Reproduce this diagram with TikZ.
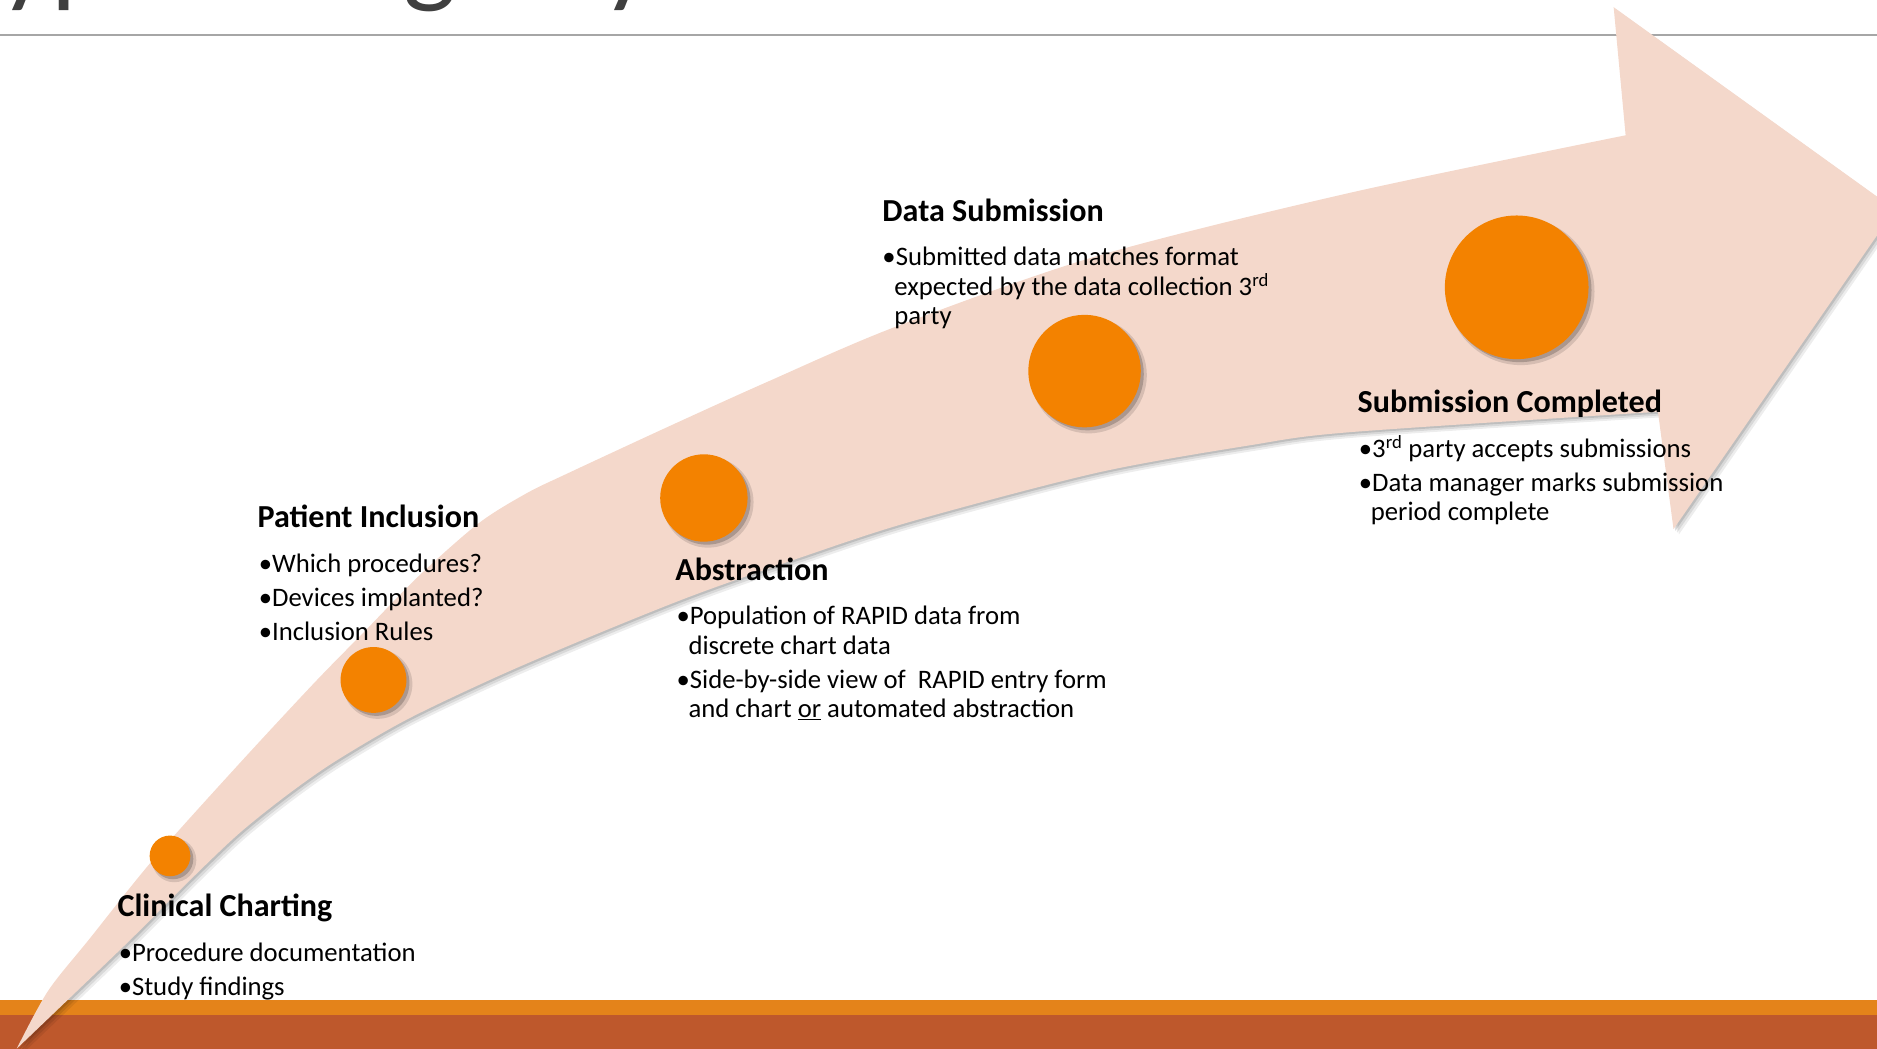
\documentclass[tikz,border=0pt]{standalone}
\usepackage{fontspec}
\setmainfont{Carlito}
\usetikzlibrary{positioning}
\definecolor{arrowpink}{HTML}{F4D8CB}
\definecolor{dotorange}{HTML}{F38200}
\definecolor{bandorange}{HTML}{E4831A}
\definecolor{bandrust}{HTML}{BE582C}
\definecolor{titlegray}{HTML}{404040}
\definecolor{rulegray}{HTML}{A6A6A6}

\begin{document}
\begin{tikzpicture}[x=1pt, y=-1pt,
        head/.style={anchor=base west, inner sep=0pt, font=\fontsize{26.8}{30}\selectfont\bfseries},
        txt/.style={anchor=base west, inner sep=0pt, font=\fontsize{22.3}{26}\selectfont},
        dot/.style={circle, fill=dotorange, inner sep=0pt}]
        \useasboundingbox (0,0) rectangle (1568,876);
        \clip (0,0) rectangle (1568,876);
        \def\arrowpath{plot[smooth] coordinates {(14,876) (40,828) (75,784) (128,718) (198,640) (262,571) (305,527) (350,481) (400,437) (440,412) (473,396) (557,357) (641,319) (748,273) (916,214) (1128,161) (1358,113)}
            -- (1348,6) -- (1583,175) -- (1398,442)
            -- plot[smooth] coordinates {(1385,344) (1128,361) (1044,372) (916,395) (760,436) (668,466) (580,497) (500,529) (418,564) (340,601) (280,636) (240,664) (200,696) (161,733) (110,784) (60,832) (14,876)} -- cycle}

        % title and rule
        \node[anchor=base west, inner sep=0pt, text=titlegray, font=\fontsize{94}{100}\selectfont] (T) at (-41,-6) {Typical Registry};
        \draw[rulegray, line width=1.5pt] (0,29.5) -- (1568,29.5);

        % bands
        \fill[bandorange] (0,835) rectangle (1568,848);
        \fill[bandrust] (0,848) rectangle (1568,876);

        % arrow
        \foreach \s/\o in {4.5/0.07, 3/0.09, 1.5/0.12}
        {
        \fill[black, opacity=\o, shift={(\s,\s)}] \arrowpath;
        }
        \fill[arrowpink] \arrowpath;

        % dots
        \foreach \n/\x/\y/\d in {D1/142/715/34, D2/312/568/55, D3/588/416/73, D4/906/310/94, D5/1267/240/120}
        {
        \fill[black, opacity=0.12] (\x+3.5,\y+3.5) circle ({\d/2+1.5});
        \fill[black, opacity=0.2] (\x+2.5,\y+2.5) circle ({\d/2});
        \node[dot, minimum size=\d pt] (\n) at (\x,\y) {};
        }

        % Clinical Charting
        \node[head] (H1) at (98,766) {Clinical Charting};
        \node[txt] (L11) at (99,803) {•Procedure documentation};
        \node[txt] (L12) at (99,831.5) {•Study findings};

        % Patient Inclusion
        \node[head] (H2) at (215,441) {Patient Inclusion};
        \node[txt] (L21) at (216,478) {•Which procedures?};
        \node[txt] (L22) at (216,506.5) {•Devices implanted?};
        \node[txt] (L23) at (216,535) {•Inclusion Rules};

        % Abstraction
        \node[head] (H3) at (564,485) {Abstraction};
        \node[txt] (L31) at (565,522) {•Population of RAPID data from};
        \node[txt] (L32) at (575,546.5) {discrete chart data};
        \node[txt] (L33) at (565,575) {•Side-by-side view of \ RAPID entry form};
        \node[txt] (L34) at (575,599.5) {and chart \underline{or} automated abstraction};

        % Data Submission
        \node[head] (H4) at (737,185) {Data Submission};
        \node[txt] (L41) at (737,222) {•Submitted data matches format};
        \node[txt] (L42) at (747,246.5) {expected by the data collection 3\textsuperscript{rd}};
        \node[txt] (L43) at (747,271) {party};

        % Submission Completed
        \node[head] (H5) at (1134,345) {Submission Completed};
        \node[txt] (L51) at (1135,382) {•3\textsuperscript{rd} party accepts submissions};
        \node[txt] (L52) at (1135,410.5) {•Data manager marks submission};
        \node[txt] (L53) at (1145,435) {period complete};
\end{tikzpicture}
\end{document}
